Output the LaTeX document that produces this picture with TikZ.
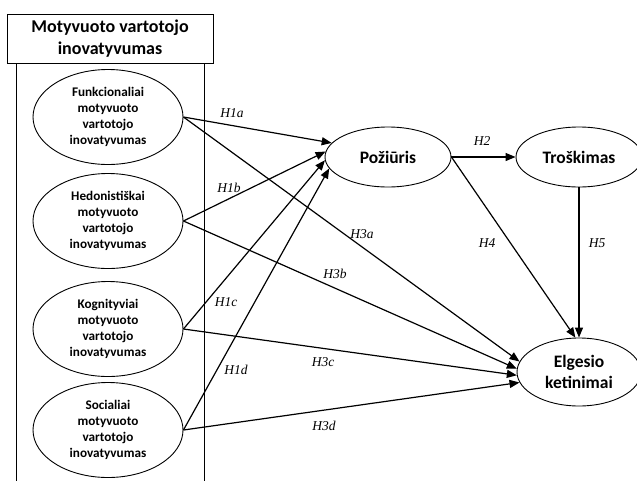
\documentclass[tikz,border=0pt]{standalone}
\usepackage{fontspec}
\setmainfont{Liberation Serif}
\newfontfamily\carlito{Carlito}
\usetikzlibrary{shapes.geometric,arrows.meta,positioning}

\begin{document}
\begin{tikzpicture}[x=1pt,y=-1pt,
  factor/.style={ellipse,draw,line width=0.9pt,minimum width=150pt,minimum height=95pt,inner sep=0pt,align=center,font=\carlito\bfseries\fontsize{13.2}{16}\selectfont},
  construct/.style={ellipse,draw,line width=0.9pt,minimum width=126pt,minimum height=60pt,inner sep=0pt,align=center,font=\carlito\bfseries\fontsize{17.5}{21}\selectfont},
  titlebox/.style={draw,fill=white,line width=0.9pt,minimum width=206pt,minimum height=49pt,inner sep=0pt,align=center,font=\carlito\bfseries\fontsize{18}{22}\selectfont},
  hyp/.style={font=\itshape\fontsize{13.5}{15}\selectfont},
  link/.style={-{Triangle[length=10pt,width=8pt]},line width=1.2pt}
]
\useasboundingbox (0,0) rectangle (637,480);

% Group of motivated innovativeness factors
\draw[line width=0.9pt] (16,63) rectangle (204,495);
\node[titlebox] (title) at (110,38.5) {Motyvuoto vartotojo\\inovatyvumas};

\foreach \n/\y/\txt in {1/117/Funkcionaliai,2/221/Hedonistiškai,3/329/Kognityviai,4/430/Socialiai}{
  \node[factor] (F\n) at (108,\y) {\txt\\motyvuoto\\vartotojo\\inovatyvumas};
}

% Constructs
\node[construct] (Poz) at (388,157) {Požiūris};
\node[construct] (Tros) at (579,157) {Troškimas};
\node[construct,minimum width=124pt,minimum height=68pt] (Elg) at (579,372) {Elgesio\\ketinimai};

% F -> Poz (H1)
\foreach \n/\a in {1/166,2/175,3/183,4/191}{
  \draw[link] (F\n.east) -- (Poz.\a);
}
% F -> Elg (H3)
\foreach \n/\a in {1/170,2/177,3/183,4/190}{
  \draw[link] (F\n.east) -- (Elg.\a);
}

\draw[link] (Poz.east) -- (Tros.west);
\draw[link] (Poz.east) -- (Elg.96);
\draw[link] (Tros.south) -- (Elg.north);

% Hypothesis labels
\node[hyp] (h1a) at (232,113) {H1a};
\node[hyp] (h1b) at (229,188) {H1b};
\node[hyp] (h1c) at (226,302) {H1c};
\node[hyp] (h1d) at (236,370) {H1d};
\node[hyp] (h3a) at (362,234) {H3a};
\node[hyp] (h3b) at (335,274) {H3b};
\node[hyp] (h3c) at (323,362) {H3c};
\node[hyp] (h3d) at (324,426) {H3d};
\node[hyp] (h2) at (482,141) {H2};
\node[hyp] (h4) at (487,243) {H4};
\node[hyp] (h5) at (597,243) {H5};
\end{tikzpicture}
\end{document}
